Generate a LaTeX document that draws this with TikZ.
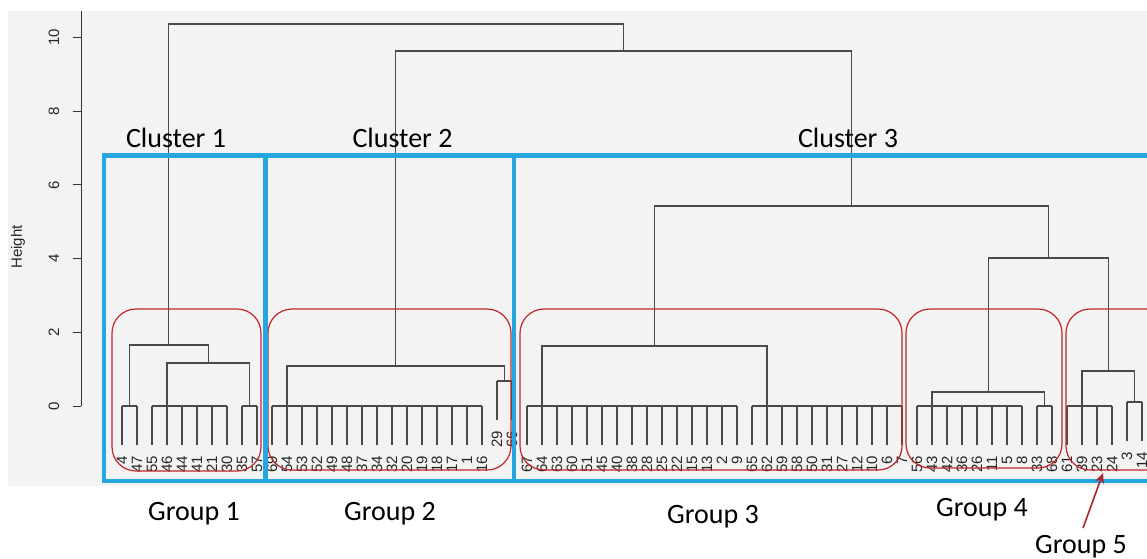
\documentclass[tikz,border=0pt]{standalone}
\usepackage{fontspec}
\newfontfamily\calfont{Carlito}
\newfontfamily\rfont{Liberation Sans}
\usetikzlibrary{arrows.meta,calc}
\definecolor{bgray}{HTML}{F3F3F3}
\definecolor{dgray}{HTML}{4A4A4A}
\definecolor{cblue}{RGB}{36,167,224}
\definecolor{gred}{HTML}{C1272D}
\definecolor{ared}{HTML}{A8252C}
\newcommand\dmerge[4]{%
  \draw[dend] (#2) -- (#2 |- 0,#4) -- (#3 |- 0,#4) -- (#3);
  \coordinate (#1) at ($(#2 |- 0,#4)!0.5!(#3 |- 0,#4)$);
}
\begin{document}
\begin{tikzpicture}[x=1pt,y=-1pt,
  dend/.style={draw=dgray,line width=1.2pt},
  axisline/.style={draw=black!80,line width=1pt},
  clusterbox/.style={draw=cblue,line width=4.5pt},
  groupbox/.style={draw=gred,line width=1.2pt,rounded corners=24pt},
  biglabel/.style={font=\calfont\fontsize{28}{30}\selectfont,inner sep=0pt,anchor=base},
  leaflab/.style={font=\rfont\fontsize{15}{15}\selectfont,rotate=90,anchor=east,inner sep=0pt,text=black!85},
  ticklab/.style={font=\rfont\fontsize{15}{15}\selectfont,rotate=90,inner sep=0pt,text=black!85},
]
\useasboundingbox (0,0) rectangle (1147,558);
\fill[bgray] (8,11) rectangle (1147,486);
\begin{scope}
\clip (0,0) rectangle (1147,558);
% axis
\draw[axisline] (81,11) -- (81,406);
\foreach \h in {0,2,4,6,8,10}{
  \pgfmathsetmacro\yy{406-36.85*\h}
  \draw[axisline] (73,\yy) -- (81,\yy);
  \node[ticklab] (tick\h) at (54,\yy) {\h};
}
\node[ticklab] (ylab) at (18,247) {Height};
% leaves
\foreach \lab [count=\i from 0] in {4,47,55,46,44,41,21,30,35,57,69,54,53,52,49,48,37,34,32,20,19,18,17,1,16,29,66,67,64,63,60,51,45,40,38,28,25,22,15,13,2,9,65,62,59,58,50,31,27,12,10,6,7,56,43,42,36,26,11,5,8,33,68,61,39,23,24,3,14}{
  \pgfmathsetmacro\yp{(\i==25 || \i==26) ? 381 : ((\i>=67) ? 402 : 406)}
  \coordinate (leaf\lab) at ({122+15*\i},\yp);
  \draw[dend] (leaf\lab) -- ++(0,39) coordinate (end\lab);
  \node[leaflab] (lab\lab) at ({122+15*\i},{\yp+50}) {\lab};
}
% group 1
\draw[dend] (leaf55) -- (leaf30);
\coordinate (c1a) at (leaf46);
\dmerge{p1a}{leaf4}{leaf47}{406}
\dmerge{p1b}{leaf35}{leaf57}{406}
\dmerge{m1b}{c1a}{p1b}{363}
\dmerge{g1}{p1a}{m1b}{345}
% group 2
\draw[dend] (leaf69) -- (leaf16);
\coordinate (c2a) at (leaf54);
\dmerge{p2}{leaf29}{leaf66}{381}
\dmerge{g2}{c2a}{p2}{366}
% group 3
\draw[dend] (leaf67) -- (leaf9);
\coordinate (c3a) at (leaf64);
\draw[dend] (leaf65) -- (leaf7);
\coordinate (c3b) at (leaf62);
\dmerge{g3}{c3a}{c3b}{346}
% group 4
\draw[dend] (leaf56) -- (leaf8);
\coordinate (c4a) at (leaf43);
\dmerge{p4}{leaf33}{leaf68}{406}
\dmerge{g4}{c4a}{p4}{392}
% group 5
\draw[dend] (leaf61) -- (leaf24);
\coordinate (c5a) at (leaf39);
\dmerge{p5}{leaf3}{leaf14}{402}
\dmerge{g5}{c5a}{p5}{371}
% upper merges
\dmerge{m45}{g4}{g5}{258}
\dmerge{m345}{g3}{m45}{206}
\dmerge{m2345}{g2}{m345}{51}
\dmerge{root}{g1}{m2345}{24}
% group boxes
\draw[groupbox] (112,309) rectangle (261,471);
\draw[groupbox] (268,309) rectangle (511,470);
\draw[groupbox] (520,309) rectangle (902,470);
\draw[groupbox] (906,309) rectangle (1062,468);
\draw[groupbox] (1066,309) rectangle (1175,470);
% cluster boxes
\draw[clusterbox] (104,155.5) rectangle (265.5,481);
\draw[clusterbox] (265.5,155.5) rectangle (514,481);
\draw[clusterbox] (514,155.5) rectangle (1170,481);
% labels
\node[biglabel] (cl1) at (176,147) {Cluster 1};
\node[biglabel] (cl2) at (402.5,147) {Cluster 2};
\node[biglabel] (cl3) at (848,147) {Cluster 3};
\node[biglabel] (gr1) at (194,520) {Group 1};
\node[biglabel] (gr2) at (390,520) {Group 2};
\node[biglabel] (gr3) at (713,523) {Group 3};
\node[biglabel] (gr4) at (982,516) {Group 4};
\node[biglabel] (gr5) at (1081,553) {Group 5};
\coordinate (g5tail) at (1083,528);
\coordinate (g5tip) at (1103,473);
\draw[ared,line width=1.6pt,-{Stealth[length=10pt,width=9pt,inset=3pt]}] (g5tail) -- (g5tip);
\end{scope}
\end{tikzpicture}
\end{document}
